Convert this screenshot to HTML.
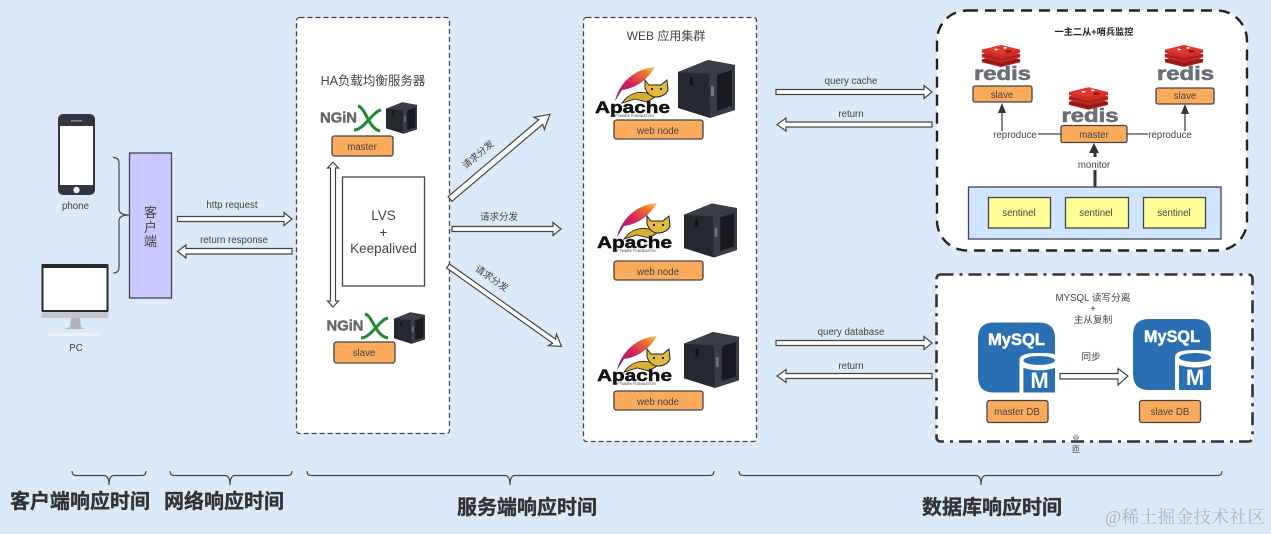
<!DOCTYPE html>
<html><head><meta charset="utf-8"><style>
html,body{margin:0;padding:0;background:#dce9f8}
svg{display:block;filter:blur(.35px)}
text{font-family:"Liberation Sans","Noto Sans CJK SC",sans-serif;fill:#444;text-anchor:middle}
.b{fill:#fbab5c;stroke:#444;stroke-width:1.3}
.a{fill:#fff;stroke:#444;stroke-width:1.2}
.s{font-size:9.7px}
.c{fill:none;stroke:#3d4a57;stroke-width:1.2}
.h{font-size:20px;font-weight:bold;fill:#333;stroke:#333;stroke-width:.35}
.ng{font-size:15px;font-weight:bold;fill:#666;stroke:#666;stroke-width:.4}
.ac{font-size:17px;font-weight:bold;fill:#111;stroke:#111;stroke-width:.5}
.af{font-size:3.5px;fill:#333}
.rt{font-size:19px;font-weight:bold;fill:#6a6f75;stroke:#6a6f75;stroke-width:.6}
.my{font-size:17px;font-weight:bold;fill:#fff;stroke:#fff;stroke-width:.5}
.mm{font-size:22px;font-weight:bold;fill:#fff}
</style></head><body>
<svg width="1271" height="534" viewBox="0 0 1271 534" xmlns="http://www.w3.org/2000/svg">
<defs>
<linearGradient id="fe" x1="0" y1="1" x2="1" y2="0"><stop offset="0" stop-color="#6a2a8c"/><stop offset=".45" stop-color="#d41f5a"/><stop offset=".8" stop-color="#ee7a30"/><stop offset="1" stop-color="#f3d060"/></linearGradient>
<symbol id="srv" viewBox="0 0 57 58" overflow="visible">
<polygon points="0,12 30,0 57,5 57,50 32,58 0,48" fill="#26282f"/>
<polygon points="0,12 30,0 57,5 31,14" fill="#3b3e47"/>
<polygon points="31,14 57,5 57,50 32,58" fill="#3a3d47"/>
<polygon points="39,15 54,10 54,46 39,51" fill="#191a20"/>
<rect x="33" y="26" width="3" height="10" fill="#6c7584"/>
<rect x="12" y="17" width="3" height="8" fill="#111"/>
</symbol>
<symbol id="rd" viewBox="0 0 40 23">
<path d="M0 15 20 9 40 15V18L20 23 0 18Z" fill="#a61d18"/>
<path d="M0 15 20 20 40 15V16L20 21 0 16Z" fill="#7e1511"/>
<path d="M0 9.500 20 4 40 9.500V13L20 18 0 13Z" fill="#c62a24"/>
<path d="M0 10 20 15 40 10V11L20 16 0 11Z" fill="#8e1814"/>
<path d="M0 5 20 0 40 5V8L20 13 0 8Z" fill="#d42d27"/>
<path d="M0 5 20 0 40 5 20 10Z" fill="#e0372f"/>
<path d="M13 3.500 18 4.500 14 6ZM23 2 27 3 23 4.500Z" fill="#fff"/>
<rect x="25" y="5.500" width="6" height="2.200" fill="#7c1612"/>
</symbol>
<symbol id="my" viewBox="0 0 78 71">
<path d="M16 0H62Q78 0 78 16V71H16Q0 71 0 55V16Q0 0 16 0Z" fill="#2b6fb3"/>
<path d="M42 38Q42 31 60 31T78 33V71H42Z" fill="#fff"/>
<ellipse cx="62" cy="38.500" rx="16" ry="4.500" fill="#2b6fb3"/>
<path d="M46 46Q62 51 78 46V71H46Z" fill="#2b6fb3"/>
</symbol>
<symbol id="ap" viewBox="0 0 90 60" overflow="visible">
<path d="M60 7C38 9 24 24 20 41L27 30C42 28 53 19 60 7Z" fill="url(#fe)"/>
<path d="M27 43C34 33 44 31 52 33L60 37 52 42 40 39Z" fill="#d9ae35" stroke="#222" stroke-width=".9"/>
<path d="M50 20L54 25H66L72 20 73 30Q70 37 60 37 53 36 50 28Z" fill="#e3b93f" stroke="#222" stroke-width="1"/>
<circle cx="57" cy="29" r="1.100" fill="#111"/><circle cx="66" cy="29" r="1.100" fill="#111"/>
</symbol>
</defs>
<rect width="1271" height="534" fill="#dce9f8"/>

<!-- phone -->
<rect x="58" y="114" width="37" height="81" rx="5" fill="#33363f"/>
<rect x="60" y="126" width="33" height="59" fill="#fff"/>
<circle cx="76.500" cy="190" r="3.200" fill="#e9e9e9"/>
<rect x="71" y="120" width="11" height="1.500" fill="#888"/>
<text x="75.500" y="209" class="s">phone</text>
<!-- PC -->
<rect x="41.500" y="264" width="67" height="48" rx="1" fill="#292b33"/>
<rect x="43.500" y="268" width="63" height="42" fill="#fff"/>
<rect x="41.500" y="312" width="67" height="6" fill="#c3c5c9"/>
<polygon points="71,318 80,318 81,327 85,329 64,329 70,327" fill="#b3b5b9"/>
<polygon points="50,333 98,333 101,336 47,336" fill="#f0f1f2"/>
<text x="76" y="351" class="s">PC</text>
<path class="c" d="M113 157.500Q119 157.500 119 163V209Q119 215 129 215Q119 215 119 221V267Q119 273 113 273"/>
<rect x="129.500" y="153" width="42" height="145" fill="#c9c9ff" stroke="#3f444d" stroke-width="1.300"/>
<text x="150.500" y="217" font-size="13">客</text>
<text x="150.500" y="232" font-size="13">户</text>
<text x="150.500" y="246" font-size="13">端</text>
<text x="232" y="208" class="s">http request</text>
<polygon class="a" points="177.500,216.500 284,216.500 284,212.500 292,219 284,225.500 284,221.500 177.500,221.500"/>
<text x="234" y="243" class="s">return response</text>
<polygon class="a" points="292,248.500 186,248.500 186,245 177.500,251.500 186,258 186,254 292,254"/>

<!-- HA panel -->
<rect x="296.500" y="17.500" width="153" height="416" rx="3" fill="#fff" stroke="#3c4650" stroke-width="1.300" stroke-dasharray="5 3"/>
<text x="373" y="85" font-size="12.500">HA负载均衡服务器</text>
<text x="338.500" y="122.500" class="ng" textLength="37" lengthAdjust="spacingAndGlyphs">NGiN</text>
<path d="M358 106C366 108 368 128 380 131M381 110C372 112 364 130 354 130" fill="none" stroke="#1f8a2f" stroke-width="3"/>
<use href="#srv" x="386" y="101" width="31" height="34"/>
<rect class="b" x="332" y="136" width="61" height="20" rx="2.500"/>
<text x="362" y="150" class="s">master</text>
<polygon class="a" points="333,162 338.500,168 335.500,168 335.500,301 338.500,301 333,307 327.500,301 330.500,301 330.500,168 327.500,168"/>
<rect x="342.500" y="177" width="82" height="109" fill="#fff" stroke="#444" stroke-width="1.300"/>
<text x="383.500" y="220" font-size="13.500">LVS</text>
<text x="383.500" y="237" font-size="13.500">+</text>
<text x="383.500" y="253" font-size="13.500">Keepalived</text>
<text x="345" y="330.500" class="ng" textLength="37" lengthAdjust="spacingAndGlyphs">NGiN</text>
<path d="M365 314C373 316 375 336 388 338M388 318C379 320 371 338 361 338" fill="none" stroke="#1f8a2f" stroke-width="3"/>
<use href="#srv" x="394" y="311" width="31" height="34"/>
<rect class="b" x="334" y="342" width="61" height="21" rx="2.500"/>
<text x="364" y="356" class="s">slave</text>

<!-- dispatch arrows -->
<g transform="translate(450 199) rotate(-40.300)"><polygon class="a" points="0,-3 119,-3 117,-8 131,0 117,8 119,3 0,3"/></g>
<polygon class="a" points="452,226.500 553,226.500 553,222.500 561,229 553,235.500 553,231.500 452,231.500"/>
<g transform="translate(448 266) rotate(35.300)"><polygon class="a" points="0,-2.500 130,-2.500 128,-7 139,0 128,7 130,2.500 0,2.500"/></g>
<text transform="translate(480 157) rotate(-40)" font-size="9.500">请求分发</text>
<text x="499" y="220" font-size="9.500">请求分发</text>
<text transform="translate(490 281) rotate(35)" font-size="9.500">请求分发</text>

<!-- WEB panel -->
<rect x="583.500" y="17.500" width="173" height="424" rx="3" fill="#fff" stroke="#3c4650" stroke-width="1.300" stroke-dasharray="5 3"/>
<text x="666" y="40" font-size="12">WEB 应用集群</text>
<use href="#ap" x="595" y="60" width="90" height="60"/>
<use href="#srv" x="678" y="60" width="57" height="58"/>
<text x="632.500" y="113" class="ac" textLength="75" lengthAdjust="spacingAndGlyphs">Apache</text>
<text x="632" y="117" class="af">SOFTWARE FOUNDATION</text>
<rect class="b" x="614" y="120" width="89" height="19" rx="2.500"/>
<text x="658" y="134" class="s">web node</text>
<use href="#ap" x="597" y="196" width="90" height="60"/>
<use href="#srv" x="684" y="202" width="53" height="57"/>
<text x="634.500" y="248" class="ac" textLength="75" lengthAdjust="spacingAndGlyphs">Apache</text>
<text x="634" y="252" class="af">SOFTWARE FOUNDATION</text>
<rect class="b" x="614" y="261" width="89" height="19" rx="2.500"/>
<text x="658" y="275" class="s">web node</text>
<use href="#ap" x="597" y="329" width="90" height="60"/>
<use href="#srv" x="684" y="330" width="55" height="60"/>
<text x="634.500" y="381" class="ac" textLength="75" lengthAdjust="spacingAndGlyphs">Apache</text>
<text x="634" y="385" class="af">SOFTWARE FOUNDATION</text>
<rect class="b" x="614" y="391" width="89" height="19" rx="2.500"/>
<text x="658" y="405" class="s">web node</text>

<!-- right arrows -->
<text x="851" y="84" class="s">query cache</text>
<polygon class="a" points="776,89.500 924,89.500 924,85.500 932,92 924,98.500 924,94.500 776,94.500"/>
<text x="851" y="117" class="s">return</text>
<polygon class="a" points="932,122 786,122 786,118 777,124.500 786,131 786,127 932,127"/>
<text x="851" y="335" class="s">query database</text>
<polygon class="a" points="776,340.500 924,340.500 924,336.500 932,343 924,349.500 924,345.500 776,345.500"/>
<text x="851" y="369" class="s">return</text>
<polygon class="a" points="932,373.500 786,373.500 786,369.500 777,376 786,382.500 786,378.500 932,378.500"/>

<!-- Redis panel -->
<rect x="937" y="10.500" width="310" height="240" rx="30" fill="#fff" stroke="#222" stroke-width="2.400" stroke-dasharray="11 7"/>
<text x="1094" y="35" font-size="9.200" font-weight="bold" style="fill:#222">一主二从+哨兵监控</text>
<use href="#rd" x="981" y="45" width="40" height="22"/>
<text x="1002.500" y="80" class="rt" textLength="57" lengthAdjust="spacingAndGlyphs">redis</text>
<rect class="b" x="973" y="86" width="59" height="16" rx="2"/>
<text x="1002" y="98" class="s">slave</text>
<use href="#rd" x="1164" y="45" width="40" height="22"/>
<text x="1185.500" y="80" class="rt" textLength="57" lengthAdjust="spacingAndGlyphs">redis</text>
<rect class="b" x="1156" y="88" width="58" height="16" rx="2"/>
<text x="1185" y="99" class="s">slave</text>
<use href="#rd" x="1069" y="87" width="39" height="23"/>
<text x="1090" y="122" class="rt" textLength="57" lengthAdjust="spacingAndGlyphs">redis</text>
<rect class="b" x="1061" y="125.500" width="66" height="17" rx="2"/>
<text x="1094" y="138" class="s">master</text>
<path d="M1002 131V108M1185 131V110M1038 134H1061M1127 134H1148" stroke="#444" stroke-width="1.300" fill="none"/>
<polygon points="1002,103 1006,113 998,113" fill="#333"/>
<polygon points="1185,104 1189,114 1181,114" fill="#333"/>
<text x="1015" y="138" class="s">reproduce</text>
<text x="1170" y="138" class="s">reproduce</text>
<path d="M1095 187V170M1095 157V152" stroke="#333" stroke-width="3" fill="none"/>
<polygon points="1094,143 1099,153 1089,153" fill="#333"/>
<text x="1094" y="168" class="s">monitor</text>
<rect x="968.500" y="187" width="252.500" height="52" fill="#cfe4ff" stroke="#444" stroke-width="1.300"/>
<g fill="#ffff99" stroke="#444" stroke-width="1.300">
<rect x="988.500" y="197.500" width="62" height="30.500"/><rect x="1065.500" y="197.500" width="63" height="30.500"/><rect x="1143.500" y="197.500" width="62" height="30.500"/></g>
<text x="1019" y="216" class="s">sentinel</text><text x="1096" y="216" class="s">sentinel</text><text x="1174" y="216" class="s">sentinel</text>

<!-- MySQL panel -->
<rect x="936.500" y="274.500" width="316" height="167" rx="4" fill="#fff" stroke="#333" stroke-width="2.600" stroke-dasharray="13 6 3 6"/>
<text x="1093" y="301" class="s">MYSQL 读写分离</text>
<text x="1093" y="312" class="s">+</text>
<text x="1093" y="323" class="s">主从复制</text>
<use href="#my" x="978" y="322" width="77" height="71"/>
<use href="#my" x="1133" y="319" width="78" height="71"/>
<text x="1016.500" y="345" class="my" textLength="57" lengthAdjust="spacingAndGlyphs">MySQL</text>
<text x="1172" y="342" class="my" textLength="56" lengthAdjust="spacingAndGlyphs">MySQL</text>
<text x="1039.500" y="388" class="mm">M</text>
<text x="1195" y="385" class="mm">M</text>
<text x="1091" y="360" class="s">同步</text>
<polygon class="a" points="1060,373.500 1118,373.500 1118,368.500 1128,376 1118,385 1118,379 1060,379"/>
<rect class="b" x="987" y="400.500" width="61" height="22" rx="2.500"/>
<text x="1017" y="415" class="s">master DB</text>
<rect class="b" x="1139.500" y="400.500" width="61" height="22" rx="2.500"/>
<text x="1170" y="415" class="s">slave DB</text>
<text x="1076" y="441" font-size="8">业</text>
<text x="1076" y="452" font-size="8">匝</text>

<!-- bottom braces -->
<path class="c" d="M72 471Q72 475.500 76 475.500H104Q109 475.500 109 485Q109 475.500 114 475.500H142Q146 475.500 146 471"/>
<path class="c" d="M170 471Q170 475.500 174 475.500H225Q230 475.500 230 485Q230 475.500 235 475.500H288Q292 475.500 292 471"/>
<path class="c" d="M307 471Q307 475.500 311 475.500H505Q510 475.500 510 485Q510 475.500 515 475.500H710Q714 475.500 714 471"/>
<path class="c" d="M739 471Q739 475.500 743 475.500H976Q981 475.500 981 485Q981 475.500 986 475.500H1218Q1222 475.500 1222 471"/>
<text x="80" y="508" class="h">客户端响应时间</text>
<text x="224" y="508" class="h">网络响应时间</text>
<text x="527" y="514" class="h">服务端响应时间</text>
<text x="992" y="514" class="h">数据库响应时间</text>
<text x="1185" y="523" font-size="17.500" style="fill:#a9b3bf;font-family:'Liberation Serif','Noto Serif CJK SC',serif" textLength="160">@稀土掘金技术社区</text>
</svg>
</body></html>
